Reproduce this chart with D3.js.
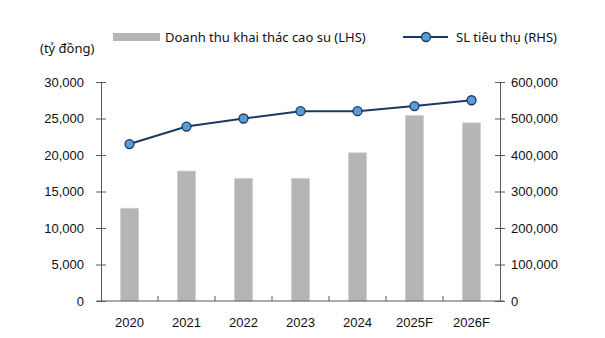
<!DOCTYPE html>
<html>
<head>
<meta charset="utf-8">
<script src="https://cdn.jsdelivr.net/npm/d3@7"></script>
<style>
    body { margin: 0; background: #fff; }
    svg { font-family: "Noto Sans", sans-serif; }
    .axis path, .axis line { stroke: #595959; }
    .axis text { fill: #111; font-size: 13px; }
</style>
</head>
<body>
<div id="chart"></div>
<script>
// categories and series
var years = ['2020', '2021', '2022', '2023', '2024', '2025F', '2026F'];
var revenue = [12700, 17800, 16800, 16800, 20300, 25400, 24400];          // tỷ đồng (LHS)
var volume = [430000, 478000, 500000, 520000, 520000, 534000, 550000];   // SL tiêu thụ (RHS)
var leftTicks = [0, 5000, 10000, 15000, 20000, 25000, 30000];
var rightTicks = [0, 100000, 200000, 300000, 400000, 500000, 600000];

var width = 605;
var height = 338;
var margin = {top: 82, bottom: 37, left: 101, right: 105};

var svg = d3.select('#chart').append('svg')
    .attr('width', width)
    .attr('height', height);

var xScale = d3.scaleBand().domain(years).range([margin.left, width - margin.right]);
var yLeft = d3.scaleLinear().domain([0, 30000]).range([height - margin.bottom, margin.top]);
var yRight = d3.scaleLinear().domain([0, 600000]).range([height - margin.bottom, margin.top]);
var fmt = d3.format(',');

// bars
svg.selectAll('rect.bar')
    .data(years)
    .enter()
    .append('rect')
    .attr('class', 'bar')
    .attr('x', function (d) { return xScale(d) + xScale.bandwidth() / 2 - 9; })
    .attr('width', 18)
    .attr('y', function (d, i) { return yLeft(revenue[i]); })
    .attr('height', function (d, i) { return yLeft(0) - yLeft(revenue[i]); })
    .attr('fill', '#b5b5b5')
    .attr('stroke', '#d0d0d0')
    .attr('stroke-width', 0.8);

// axes
var leftAxis = svg.append('g')
    .attr('class', 'axis')
    .attr('transform', 'translate(' + margin.left + ',0)')
    .call(d3.axisLeft(yLeft).tickValues(leftTicks).tickFormat(fmt).tickSizeInner(5).tickSizeOuter(0).tickPadding(12));
leftAxis.selectAll('.tick line').attr('x1', 5).attr('x2', -5);

var rightAxis = svg.append('g')
    .attr('class', 'axis')
    .attr('transform', 'translate(' + (width - margin.right) + ',0)')
    .call(d3.axisRight(yRight).tickValues(rightTicks).tickFormat(fmt).tickSizeInner(5).tickSizeOuter(0).tickPadding(6));
rightAxis.selectAll('.tick line').attr('x1', -5).attr('x2', 5);

var bottomAxis = svg.append('g')
    .attr('class', 'axis')
    .attr('transform', 'translate(0,' + (height - margin.bottom) + ')')
    .call(d3.axisBottom(xScale).tickSize(0).tickPadding(17));
bottomAxis.select('.domain').attr('d', 'M' + (margin.left - 4) + ',0H' + (width - margin.right + 4));
bottomAxis.selectAll('line.sep')
    .data(years.slice(1))
    .enter()
    .append('line')
    .attr('class', 'sep')
    .attr('x1', function (d) { return xScale(d); })
    .attr('x2', function (d) { return xScale(d); })
    .attr('y1', 0).attr('y2', -5);

// line series
var line = d3.line()
    .x(function (d, i) { return xScale(years[i]) + xScale.bandwidth() / 2; })
    .y(function (d) { return yRight(d); });

svg.append('path')
    .datum(volume)
    .attr('d', line)
    .attr('fill', 'none')
    .attr('stroke', '#1b3a63')
    .attr('stroke-width', 2);

svg.selectAll('circle.pt')
    .data(volume)
    .enter()
    .append('circle')
    .attr('class', 'pt')
    .attr('cx', function (d, i) { return xScale(years[i]) + xScale.bandwidth() / 2; })
    .attr('cy', function (d) { return yRight(d); })
    .attr('r', 4.5)
    .attr('fill', '#5b9bd5')
    .attr('stroke', '#1b3a63')
    .attr('stroke-width', 1.3);

// unit label
svg.append('text')
    .attr('x', 40).attr('y', 53)
    .attr('font-size', 13)
    .attr('fill', '#111')
    .text('(tỷ đồng)');

// legend
var legend = svg.append('g').attr('font-size', 13).attr('fill', '#111');
legend.append('rect')
    .attr('x', 113).attr('y', 33).attr('width', 47).attr('height', 8)
    .attr('fill', '#b5b5b5');
legend.append('text')
    .attr('x', 165).attr('y', 42)
    .text('Doanh thu khai thác cao su (LHS)');
legend.append('line')
    .attr('x1', 403).attr('x2', 448).attr('y1', 37).attr('y2', 37)
    .attr('stroke', '#1b3a63').attr('stroke-width', 2);
legend.append('circle')
    .attr('cx', 426).attr('cy', 37).attr('r', 4.5)
    .attr('fill', '#5b9bd5').attr('stroke', '#1b3a63').attr('stroke-width', 1.3);
legend.append('text')
    .attr('x', 456).attr('y', 42)
    .text('SL tiêu thụ (RHS)');
</script>
</body>
</html>
